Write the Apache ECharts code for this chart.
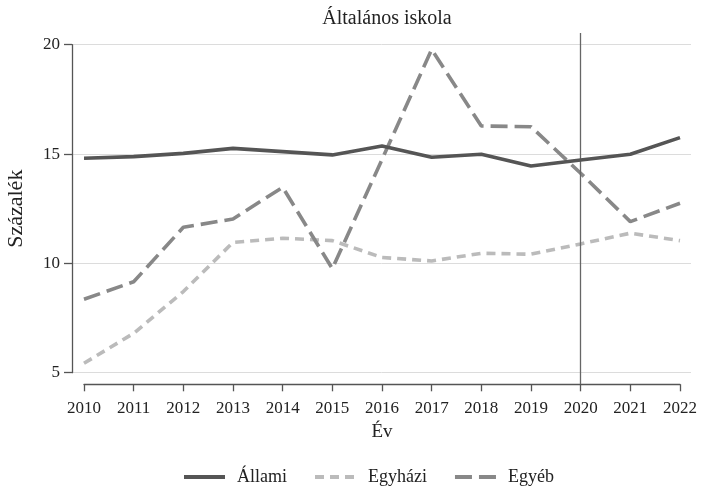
<!DOCTYPE html>
<html>
<head>
<meta charset="utf-8">
<script src="https://cdn.jsdelivr.net/npm/echarts@6/dist/echarts.min.js"></script>
<style>html,body{margin:0;padding:0;background:#fff}#c{width:701px;height:488px}</style>
</head>
<body>
<div id="c"></div>
<script>
const years = [2010,2011,2012,2013,2014,2015,2016,2017,2018,2019,2020,2021,2022];
const allami  = [14.81,14.88,15.03,15.26,15.11,14.96,15.37,14.85,14.99,14.45,14.73,14.99,15.75];
const egyhazi = [5.43,6.80,8.71,10.96,11.15,11.04,10.27,10.11,10.46,10.42,10.89,11.38,11.04];
const egyeb   = [8.36,9.16,11.65,12.03,13.48,9.76,14.75,19.78,16.28,16.25,14.12,11.91,12.75];
const yTicks = [5,10,15,20];
const refYear = 2020;
const seriesNames = ['Állami','Egyházi','Egyéb'];

const font = 'Liberation Serif';
const pair = (vals) => years.map((y,i) => [y, vals[i]]);

const chart = echarts.init(document.getElementById('c'));
chart.setOption({
  backgroundColor: '#fff',
  animation: false,
  title: {
    text: 'Általános iskola', left: 382, top: 4, textAlign: 'center',
    textStyle: {fontFamily: font, fontSize: 20, fontWeight: 'normal', color: '#222'}
  },
  legend: {
    bottom: -3, left: 177,
    itemWidth: 41, itemHeight: 14, itemGap: 26,
    data: seriesNames,
    itemStyle: {opacity: 0},
    lineStyle: {width: 4},
    textStyle: {fontFamily: font, fontSize: 18, color: '#222', padding: [0,0,0,7]}
  },
  grid: [
    {left: 84, right: 21, top: 44.7, bottom: 115.3, outerBoundsMode: 'none', containLabel: false},
    {left: 72, right: 10, top: 44.7, bottom: 115.3, outerBoundsMode: 'none', containLabel: false},
    {left: 84, right: 21, top: 33, bottom: 104, outerBoundsMode: 'none', containLabel: false}
  ],
  xAxis: [
    {gridIndex: 0, type: 'value', min: years[0], max: years[years.length-1], interval: 1,
     offset: 11.6,
     axisLine: {show: true, lineStyle: {color: '#555', width: 1.3}},
     axisTick: {show: true, length: 7, lineStyle: {color: '#555', width: 1.3}},
     axisLabel: {fontFamily: font, fontSize: 17, color: '#222', margin: 16, formatter: v => String(v)},
     splitLine: {show: false},
     name: 'Év', nameLocation: 'middle', nameGap: 34,
     nameTextStyle: {fontFamily: font, fontSize: 19, color: '#222'}},
    {gridIndex: 1, type: 'value', min: 0, max: 1, show: false},
    {gridIndex: 2, type: 'value', min: years[0], max: years[years.length-1], show: false}
  ],
  yAxis: [
    {gridIndex: 0, type: 'value', min: yTicks[0], max: yTicks[yTicks.length-1], interval: 5,
     offset: 12,
     axisLine: {show: true, lineStyle: {color: '#555', width: 1.3}},
     axisTick: {show: true, length: 8, lineStyle: {color: '#555', width: 1.3}},
     axisLabel: {fontFamily: font, fontSize: 17, color: '#222', margin: 12},
     splitLine: {show: false},
     name: 'Százalék', nameLocation: 'middle', nameGap: 45, nameRotate: 90,
     nameTextStyle: {fontFamily: font, fontSize: 22, color: '#222'}},
    {gridIndex: 1, type: 'value', min: yTicks[0], max: yTicks[yTicks.length-1], interval: 5,
     axisLine: {show: false}, axisTick: {show: false}, axisLabel: {show: false},
     splitLine: {show: true, lineStyle: {color: '#dcdcdc', width: 1}}},
    {gridIndex: 2, type: 'value', min: 0, max: 1, show: false}
  ],
  series: [
    {type: 'line', xAxisIndex: 2, yAxisIndex: 2, data: [], silent: true,
     markLine: {silent: true, symbol: 'none', label: {show: false},
       lineStyle: {color: '#666', width: 1.3, type: 'solid'},
       data: [{xAxis: refYear}]}},
    {name: seriesNames[0], type: 'line', xAxisIndex: 0, yAxisIndex: 0, data: pair(allami),
     symbol: 'none', z: 5,
     lineStyle: {color: '#555', width: 3.6, type: 'solid'}, itemStyle: {color: '#555'}},
    {name: seriesNames[1], type: 'line', xAxisIndex: 0, yAxisIndex: 0, data: pair(egyhazi),
     symbol: 'none', z: 3,
     lineStyle: {color: '#bbb', width: 3.6, type: [9,6]}, itemStyle: {color: '#bbb'}},
    {name: seriesNames[2], type: 'line', xAxisIndex: 0, yAxisIndex: 0, data: pair(egyeb),
     symbol: 'none', z: 4,
     lineStyle: {color: '#888', width: 3.6, type: [17,7]}, itemStyle: {color: '#888'}}
  ]
});
</script>
</body>
</html>
